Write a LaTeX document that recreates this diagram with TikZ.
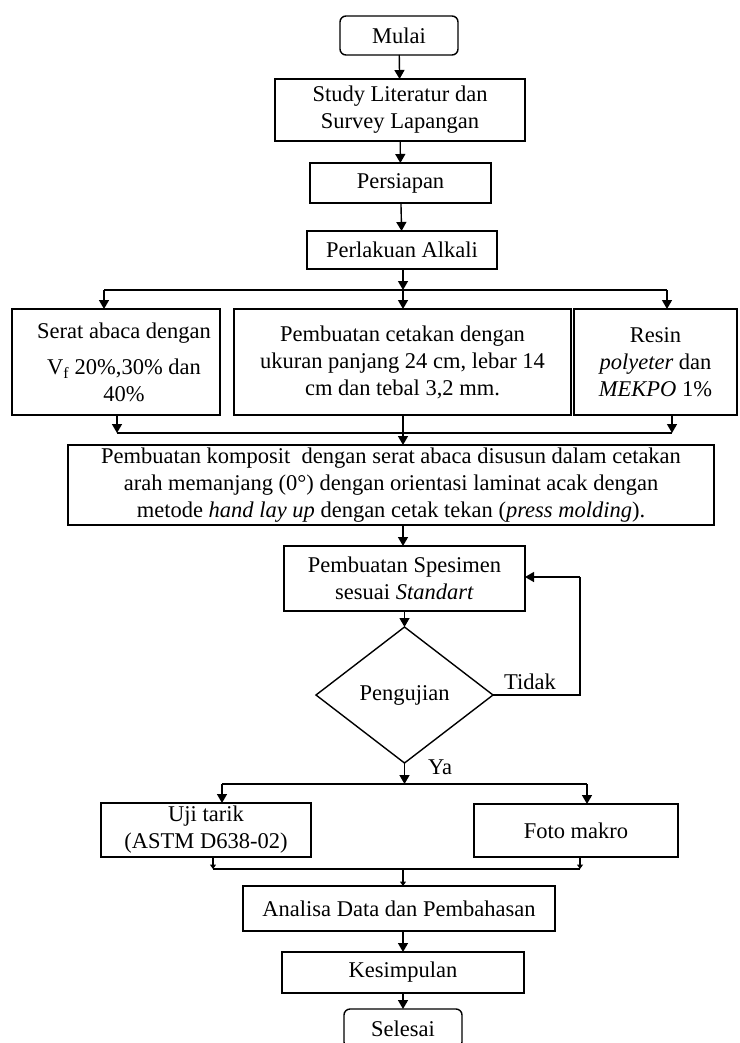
\documentclass[tikz,border=0pt]{standalone}
\usepackage{fontspec}
\setmainfont{Liberation Serif}
\usetikzlibrary{arrows.meta,shapes.geometric}
\begin{document}
\begin{tikzpicture}[x=1pt,y=-1pt,
  font=\fontsize{22.5}{27}\selectfont,
  every node/.style={inner sep=0pt, outer sep=0pt, align=center},
  box/.style={draw, line width=1.4pt, rectangle},
  term/.style={draw, line width=1.4pt, rectangle, rounded corners=6pt},
  dec/.style={draw, line width=1.4pt, diamond},
  ln/.style={line width=1.4pt},
  arr/.style={line width=1.4pt, -{Triangle[length=9pt,width=10pt]}},
  sarr/.style={line width=1.4pt, -{Triangle[length=4.5pt,width=6pt]}}
]
\useasboundingbox (0,0) rectangle (739,1043);

\node[term, minimum width=118pt, minimum height=39pt] (mulai) at (399,35.5) {Mulai};
\node[box, minimum width=250pt, minimum height=62pt] (study) at (400,110) {Study Literatur dan\\Survey Lapangan};
\node[box, minimum width=181pt, minimum height=40pt] (persiapan) at (400.5,183) {Persiapan};
\node[box, minimum width=190pt, minimum height=38pt] (alkali) at (402,250) {Perlakuan Alkali};

\node[box, minimum width=208pt, minimum height=106pt] (serat) at (116,362)
  {\hspace*{16pt}Serat abaca dengan\\[9pt]\hspace*{16pt}V\textsubscript{f} 20\%,30\% dan\\\hspace*{16pt}40\%};
\node[box, minimum width=337pt, minimum height=106pt] (cetakan) at (402.5,362)
  {Pembuatan cetakan dengan\\ukuran panjang 24 cm, lebar 14\\cm dan tebal 3,2 mm.};
\node[box, minimum width=163pt, minimum height=106pt] (resin) at (655.5,362)
  {Resin\\\textit{polyeter} dan\\\textit{MEKPO} 1\%};

\node[box, minimum width=646pt, minimum height=80pt] (komposit) at (391,485)
  {Pembuatan komposit\ \ dengan serat abaca disusun dalam cetakan\\
   arah memanjang (0°) dengan orientasi laminat acak dengan\\
   metode \textit{hand lay up} dengan cetak tekan (\textit{press molding}).};

\node[box, minimum width=241pt, minimum height=65pt] (spesimen) at (404.5,578.5)
  {Pembuatan Spesimen\\sesuai \textit{Standart}};
\node[dec, minimum width=177pt, minimum height=136pt] (uji) at (404.5,695) {Pengujian};
\node (tidak) at (530,682) {Tidak};
\node (ya) at (440,767) {Ya};

\node[box, minimum width=210pt, minimum height=54pt] (tarik) at (206,830) {Uji tarik\\(ASTM D638-02)};
\node[box, minimum width=204pt, minimum height=53pt] (foto) at (576,830.5) {Foto makro};

\node[box, minimum width=312pt, minimum height=45pt] (analisa) at (399,908.5) {Analisa Data dan Pembahasan};
\node[box, minimum width=242pt, minimum height=41pt] (kesimpulan) at (403,972.5) {Kesimpulan};
\node[term, minimum width=118pt, minimum height=39pt] (selesai) at (403,1028.5) {Selesai};

% junction coordinates
\coordinate (t1) at (403,290);
\coordinate (t1l) at (104,290);
\coordinate (t1r) at (667,290);
\coordinate (b1l) at (117,433);
\coordinate (b1r) at (672,433);
\coordinate (fb1) at (580,695);
\coordinate (fb2) at (580,577);
\coordinate (t2) at (404.5,784);
\coordinate (t2l) at (222,784);
\coordinate (t2r) at (587,784);
\coordinate (b2l) at (213,869);
\coordinate (b2r) at (580,869);
\coordinate (b2) at (403,869);

\draw[arr] (mulai) -- (study);
\draw[arr] (study) -- (persiapan);
\draw[arr] (persiapan) -- (alkali);
\draw[arr] (alkali.south -| t1) -- (t1);
\draw[ln] (t1l) -- (t1r);
\draw[arr] (t1l) -- (t1l |- serat.north);
\draw[arr] (t1) -- (t1 |- cetakan.north);
\draw[arr] (t1r) -- (t1r |- resin.north);

\draw[arr] (b1l |- serat.south) -- (b1l);
\draw[arr] (b1r |- resin.south) -- (b1r);
\draw[ln] (b1l) -- (b1r);
\draw[arr] (t1 |- cetakan.south) -- (t1 |- komposit.north);

\draw[arr] (t1 |- komposit.south) -- (t1 |- spesimen.north);
\draw[arr] (spesimen) -- (uji);
\draw[ln] (uji.east) -- (fb1) -- (fb2);
\draw[arr] (fb2) -- (fb2 -| spesimen.east);

\draw[arr] (uji.south) -- (t2);
\draw[ln] (t2l) -- (t2r);
\draw[arr] (t2l) -- (t2l |- tarik.north);
\draw[arr] (t2r) -- (t2r |- foto.north);

\draw[sarr] (b2l |- tarik.south) -- (b2l);
\draw[sarr] (b2r |- foto.south) -- (b2r);
\draw[ln] (b2l) -- (b2r);
\draw[sarr] (b2) -- (b2 |- analisa.north);

\draw[arr] (analisa.south -| kesimpulan) -- (kesimpulan);
\draw[arr] (kesimpulan) -- (selesai);
\end{tikzpicture}
\end{document}
